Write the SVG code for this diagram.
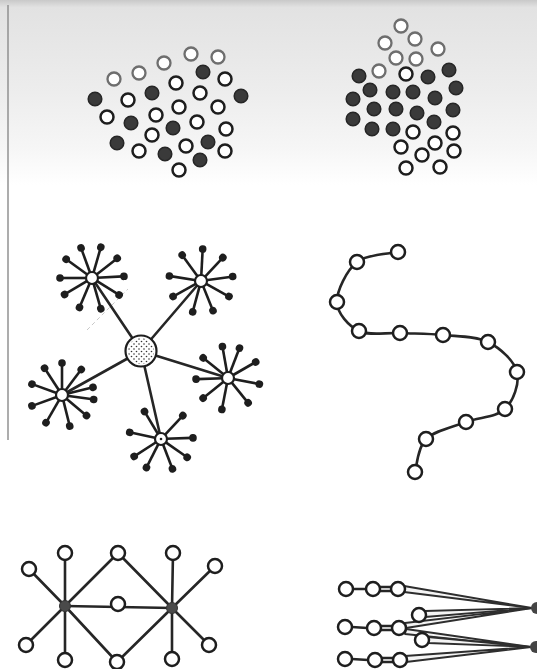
<svg xmlns="http://www.w3.org/2000/svg" xmlns:xlink="http://www.w3.org/1999/xlink" width="537" height="669" viewBox="0 0 537 669">
<style>
.o{fill:#fff;stroke:#1e1e1e;stroke-width:2.5}
.of{fill:#fff;stroke:#6e6e6e;stroke-width:2.3}
.f{fill:#3a3a3a;stroke:#262626;stroke-width:1.5}
.ln{stroke:#262626;stroke-width:2.6;fill:none;stroke-linecap:round}
.w{fill:#f4f4f4;stroke:#2e2e2e;stroke-width:1.8;stroke-linejoin:round}
.sat{fill:#fff;stroke:#1e1e1e;stroke-width:2.2}
</style>
<defs>
<linearGradient id="bg" x1="0" y1="0" x2="0" y2="1">
<stop offset="0" stop-color="#c9c9c9"/>
<stop offset="0.04" stop-color="#e2e2e2"/>
<stop offset="0.5" stop-color="#ededed"/>
<stop offset="0.8" stop-color="#f6f6f6"/>
<stop offset="1" stop-color="#ffffff"/>
</linearGradient>
<pattern id="stip" width="5" height="5" patternUnits="userSpaceOnUse">
<circle cx="1.5" cy="1.5" r="0.8" fill="#333"/>
<circle cx="4" cy="4" r="0.8" fill="#333"/>
</pattern>
<g id="spoke"><line x1="5" y1="0" x2="31" y2="0" stroke="#1e1e1e" stroke-width="2.6"/><circle cx="32" cy="0" r="3.8" fill="#1e1e1e"/></g>
</defs>
<rect width="537" height="669" fill="#fff"/>
<rect width="537" height="185" fill="url(#bg)"/>
<line x1="8" y1="5" x2="8" y2="440" stroke="#8a8a8a" stroke-width="1.4"/>
<line x1="87" y1="330" x2="128" y2="289" stroke="#c8c8c8" stroke-width="1" stroke-dasharray="4 3"/>

<g id="cluster1">
<circle class="of" cx="191" cy="54" r="6.5"/><circle class="of" cx="218" cy="57" r="6.5"/><circle class="of" cx="164" cy="63" r="6.5"/>
<circle class="of" cx="139" cy="73" r="6.5"/><circle class="of" cx="114" cy="79" r="6.5"/><circle class="o" cx="225" cy="79" r="6.5"/>
<circle class="o" cx="176" cy="83" r="6.5"/><circle class="o" cx="200" cy="93" r="6.5"/><circle class="o" cx="128" cy="100" r="6.5"/>
<circle class="o" cx="179" cy="107" r="6.5"/><circle class="o" cx="218" cy="107" r="6.5"/><circle class="o" cx="107" cy="117" r="6.5"/>
<circle class="o" cx="156" cy="115" r="6.5"/><circle class="o" cx="197" cy="122" r="6.5"/><circle class="o" cx="226" cy="129" r="6.5"/>
<circle class="o" cx="152" cy="135" r="6.5"/><circle class="o" cx="186" cy="146" r="6.5"/><circle class="o" cx="139" cy="151" r="6.5"/>
<circle class="o" cx="225" cy="151" r="6.5"/><circle class="o" cx="179" cy="170" r="6.5"/>
<circle class="f" cx="203" cy="72" r="6.8"/><circle class="f" cx="152" cy="93" r="6.8"/><circle class="f" cx="241" cy="96" r="6.8"/>
<circle class="f" cx="95" cy="99" r="6.8"/><circle class="f" cx="131" cy="123" r="6.8"/><circle class="f" cx="173" cy="128" r="6.8"/>
<circle class="f" cx="117" cy="143" r="6.8"/><circle class="f" cx="208" cy="142" r="6.8"/><circle class="f" cx="165" cy="154" r="6.8"/>
<circle class="f" cx="200" cy="160" r="6.8"/>
</g>

<g id="cluster2">
<circle class="of" cx="401" cy="26" r="6.5"/><circle class="of" cx="415" cy="39" r="6.5"/><circle class="of" cx="385" cy="43" r="6.5"/>
<circle class="of" cx="438" cy="49" r="6.5"/><circle class="of" cx="396" cy="58" r="6.5"/><circle class="of" cx="416" cy="59" r="6.5"/>
<circle class="of" cx="379" cy="71" r="6.5"/><circle class="o" cx="406" cy="74" r="6.5"/>
<circle class="o" cx="413" cy="132" r="6.5"/><circle class="o" cx="453" cy="133" r="6.5"/><circle class="o" cx="435" cy="143" r="6.5"/>
<circle class="o" cx="401" cy="147" r="6.5"/><circle class="o" cx="422" cy="155" r="6.5"/><circle class="o" cx="454" cy="151" r="6.5"/>
<circle class="o" cx="406" cy="168" r="6.5"/><circle class="o" cx="440" cy="167" r="6.5"/>
<circle class="f" cx="359" cy="76" r="6.8"/><circle class="f" cx="428" cy="77" r="6.8"/><circle class="f" cx="449" cy="70" r="6.8"/>
<circle class="f" cx="370" cy="90" r="6.8"/><circle class="f" cx="393" cy="92" r="6.8"/><circle class="f" cx="413" cy="92" r="6.8"/>
<circle class="f" cx="456" cy="88" r="6.8"/><circle class="f" cx="353" cy="99" r="6.8"/><circle class="f" cx="435" cy="98" r="6.8"/>
<circle class="f" cx="374" cy="109" r="6.8"/><circle class="f" cx="396" cy="109" r="6.8"/><circle class="f" cx="417" cy="113" r="6.8"/>
<circle class="f" cx="453" cy="110" r="6.8"/><circle class="f" cx="353" cy="119" r="6.8"/><circle class="f" cx="434" cy="122" r="6.8"/>
<circle class="f" cx="372" cy="129" r="6.8"/><circle class="f" cx="393" cy="129" r="6.8"/>
</g>

<g id="star-connectors">
<line class="ln" x1="141" y1="351" x2="92" y2="278"/>
<line class="ln" x1="141" y1="351" x2="201" y2="281"/>
<line class="ln" x1="141" y1="351" x2="228" y2="378"/>
<line class="ln" x1="141" y1="351" x2="161" y2="439"/>
<line class="ln" x1="141" y1="351" x2="62" y2="395"/>
</g>
<g id="sat-tl" transform="translate(92,278)">
<use href="#spoke" transform="rotate(-110)"/><use href="#spoke" transform="rotate(-74)"/><use href="#spoke" transform="rotate(-38)"/>
<use href="#spoke" transform="rotate(-3)"/><use href="#spoke" transform="rotate(32)"/><use href="#spoke" transform="rotate(74)"/>
<use href="#spoke" transform="rotate(113)"/><use href="#spoke" transform="rotate(149)"/><use href="#spoke" transform="rotate(180)"/>
<use href="#spoke" transform="rotate(216)"/>
<circle class="sat" r="6"/>
</g>
<g id="sat-tr" transform="translate(201,281)">
<use href="#spoke" transform="rotate(-126)"/><use href="#spoke" transform="rotate(-87)"/><use href="#spoke" transform="rotate(-47)"/>
<use href="#spoke" transform="rotate(-8)"/><use href="#spoke" transform="rotate(29)"/><use href="#spoke" transform="rotate(68)"/>
<use href="#spoke" transform="rotate(105)"/><use href="#spoke" transform="rotate(151)"/><use href="#spoke" transform="rotate(189)"/>
<circle class="sat" r="6"/>
</g>
<g id="sat-r" transform="translate(228,378)">
<use href="#spoke" transform="rotate(-141)"/><use href="#spoke" transform="rotate(-100)"/><use href="#spoke" transform="rotate(-69)"/>
<use href="#spoke" transform="rotate(-30)"/><use href="#spoke" transform="rotate(11)"/><use href="#spoke" transform="rotate(51)"/>
<use href="#spoke" transform="rotate(101)"/><use href="#spoke" transform="rotate(141)"/><use href="#spoke" transform="rotate(178)"/>
<circle class="sat" r="6"/>
</g>
<g id="sat-b" transform="translate(161,439)">
<use href="#spoke" transform="rotate(-121)"/><use href="#spoke" transform="rotate(-47)"/><use href="#spoke" transform="rotate(-2)"/>
<use href="#spoke" transform="rotate(35)"/><use href="#spoke" transform="rotate(69)"/><use href="#spoke" transform="rotate(117)"/>
<use href="#spoke" transform="rotate(147)"/><use href="#spoke" transform="rotate(192)"/>
<circle class="sat" r="6"/>
<circle r="1.3" fill="#222"/>
</g>
<g id="sat-l" transform="translate(62,395)">
<use href="#spoke" transform="rotate(-123)"/><use href="#spoke" transform="rotate(-90)"/><use href="#spoke" transform="rotate(-53)"/>
<use href="#spoke" transform="rotate(-14)"/><use href="#spoke" transform="rotate(8)"/><use href="#spoke" transform="rotate(40)"/>
<use href="#spoke" transform="rotate(76)"/><use href="#spoke" transform="rotate(120)"/><use href="#spoke" transform="rotate(160)"/>
<use href="#spoke" transform="rotate(200)"/>
<circle class="sat" r="6"/>
</g>
<g id="hub">
<circle cx="141" cy="351" r="15.5" fill="#fff" stroke="#1e1e1e" stroke-width="2.2"/>
<circle cx="141" cy="351" r="13" fill="url(#stip)"/>
</g>

<g id="chain-connector">
<path class="ln" stroke-width="2.4" d="M398,252 C391.2,253.7 367.2,253.7 357,262 C346.8,270.3 336.7,290.5 337,302 C337.3,313.5 348.5,325.8 359,331 C369.5,336.2 386,332.3 400,333 C414,333.7 428.3,333.5 443,335 C457.7,336.5 475.7,335.8 488,342 C500.3,348.2 514.2,360.8 517,372 C519.8,383.2 513.5,400.7 505,409 C496.5,417.3 479.2,417 466,422 C452.8,427 434.5,430.7 426,439 C417.5,447.3 416.8,466.5 415,472"/>
</g>
<g id="chain-nodes">
<circle class="o" cx="398" cy="252" r="7"/><circle class="o" cx="357" cy="262" r="7"/><circle class="o" cx="337" cy="302" r="7"/>
<circle class="o" cx="359" cy="331" r="7"/><circle class="o" cx="400" cy="333" r="7"/><circle class="o" cx="443" cy="335" r="7"/>
<circle class="o" cx="488" cy="342" r="7"/><circle class="o" cx="517" cy="372" r="7"/><circle class="o" cx="505" cy="409" r="7"/>
<circle class="o" cx="466" cy="422" r="7"/><circle class="o" cx="426" cy="439" r="7"/><circle class="o" cx="415" cy="472" r="7"/>
</g>

<g id="net-connectors">
<line class="ln" x1="65" y1="606" x2="65" y2="553"/><line class="ln" x1="65" y1="606" x2="29" y2="569"/>
<line class="ln" x1="65" y1="606" x2="118" y2="553"/><line class="ln" x1="65" y1="606" x2="172" y2="608"/>
<line class="ln" x1="65" y1="606" x2="26" y2="645"/><line class="ln" x1="65" y1="606" x2="65" y2="660"/>
<line class="ln" x1="65" y1="606" x2="117" y2="662"/>
<line class="ln" x1="172" y1="608" x2="118" y2="553"/><line class="ln" x1="172" y1="608" x2="173" y2="553"/>
<line class="ln" x1="172" y1="608" x2="215" y2="566"/><line class="ln" x1="172" y1="608" x2="209" y2="645"/>
<line class="ln" x1="172" y1="608" x2="172" y2="659"/><line class="ln" x1="172" y1="608" x2="117" y2="662"/>
</g>
<g id="net-nodes">
<circle cx="65" cy="606" r="5.5" fill="#4a4a4a" stroke="#333" stroke-width="1"/>
<circle cx="172" cy="608" r="5.5" fill="#4a4a4a" stroke="#333" stroke-width="1"/>
<circle class="o" cx="65" cy="553" r="7"/><circle class="o" cx="29" cy="569" r="7"/><circle class="o" cx="118" cy="553" r="7"/>
<circle class="o" cx="118" cy="604" r="7"/><circle class="o" cx="26" cy="645" r="7"/><circle class="o" cx="65" cy="660" r="7"/>
<circle class="o" cx="117" cy="662" r="7"/><circle class="o" cx="173" cy="553" r="7"/><circle class="o" cx="215" cy="566" r="7"/>
<circle class="o" cx="209" cy="645" r="7"/><circle class="o" cx="172" cy="659" r="7"/>
</g>

<g id="fan-connectors">
<line class="ln" stroke-width="1.8" x1="353" y1="589" x2="366" y2="589"/>
<line class="ln" stroke-width="1.6" x1="380" y1="587" x2="391" y2="587"/><line class="ln" stroke-width="1.6" x1="380" y1="591" x2="391" y2="591"/>
<line class="ln" stroke-width="1.8" x1="352" y1="627" x2="367" y2="628"/>
<line class="ln" stroke-width="1.6" x1="381" y1="626" x2="392" y2="626"/><line class="ln" stroke-width="1.6" x1="381" y1="630" x2="392" y2="630"/>
<line class="ln" stroke-width="1.8" x1="352" y1="659" x2="368" y2="660"/>
<line class="ln" stroke-width="1.6" x1="382" y1="658" x2="393" y2="658"/><line class="ln" stroke-width="1.6" x1="382" y1="662" x2="393" y2="662"/>
<polygon class="w" points="404,586 404,592 532,608"/>
<polygon class="w" points="425,611 425,617 532,608"/>
<polygon class="w" points="405,623 406,628 532,608"/>
<polygon class="w" points="406,629 405,634 531,647"/>
<polygon class="w" points="428,637 428,643 531,647"/>
<polygon class="w" points="405,656 406,662 531,647"/>
</g>
<g id="fan-nodes">
<circle class="o" cx="346" cy="589" r="7"/><circle class="o" cx="373" cy="589" r="7"/><circle class="o" cx="398" cy="589" r="7"/>
<circle class="o" cx="345" cy="627" r="7"/><circle class="o" cx="374" cy="628" r="7"/><circle class="o" cx="399" cy="628" r="7"/>
<circle class="o" cx="419" cy="615" r="7"/><circle class="o" cx="422" cy="640" r="7"/>
<circle class="o" cx="345" cy="659" r="7"/><circle class="o" cx="375" cy="660" r="7"/><circle class="o" cx="400" cy="660" r="7"/>
<circle cx="537" cy="608" r="6" fill="#444"/>
<circle cx="536" cy="647" r="6" fill="#444"/>
</g>
</svg>
